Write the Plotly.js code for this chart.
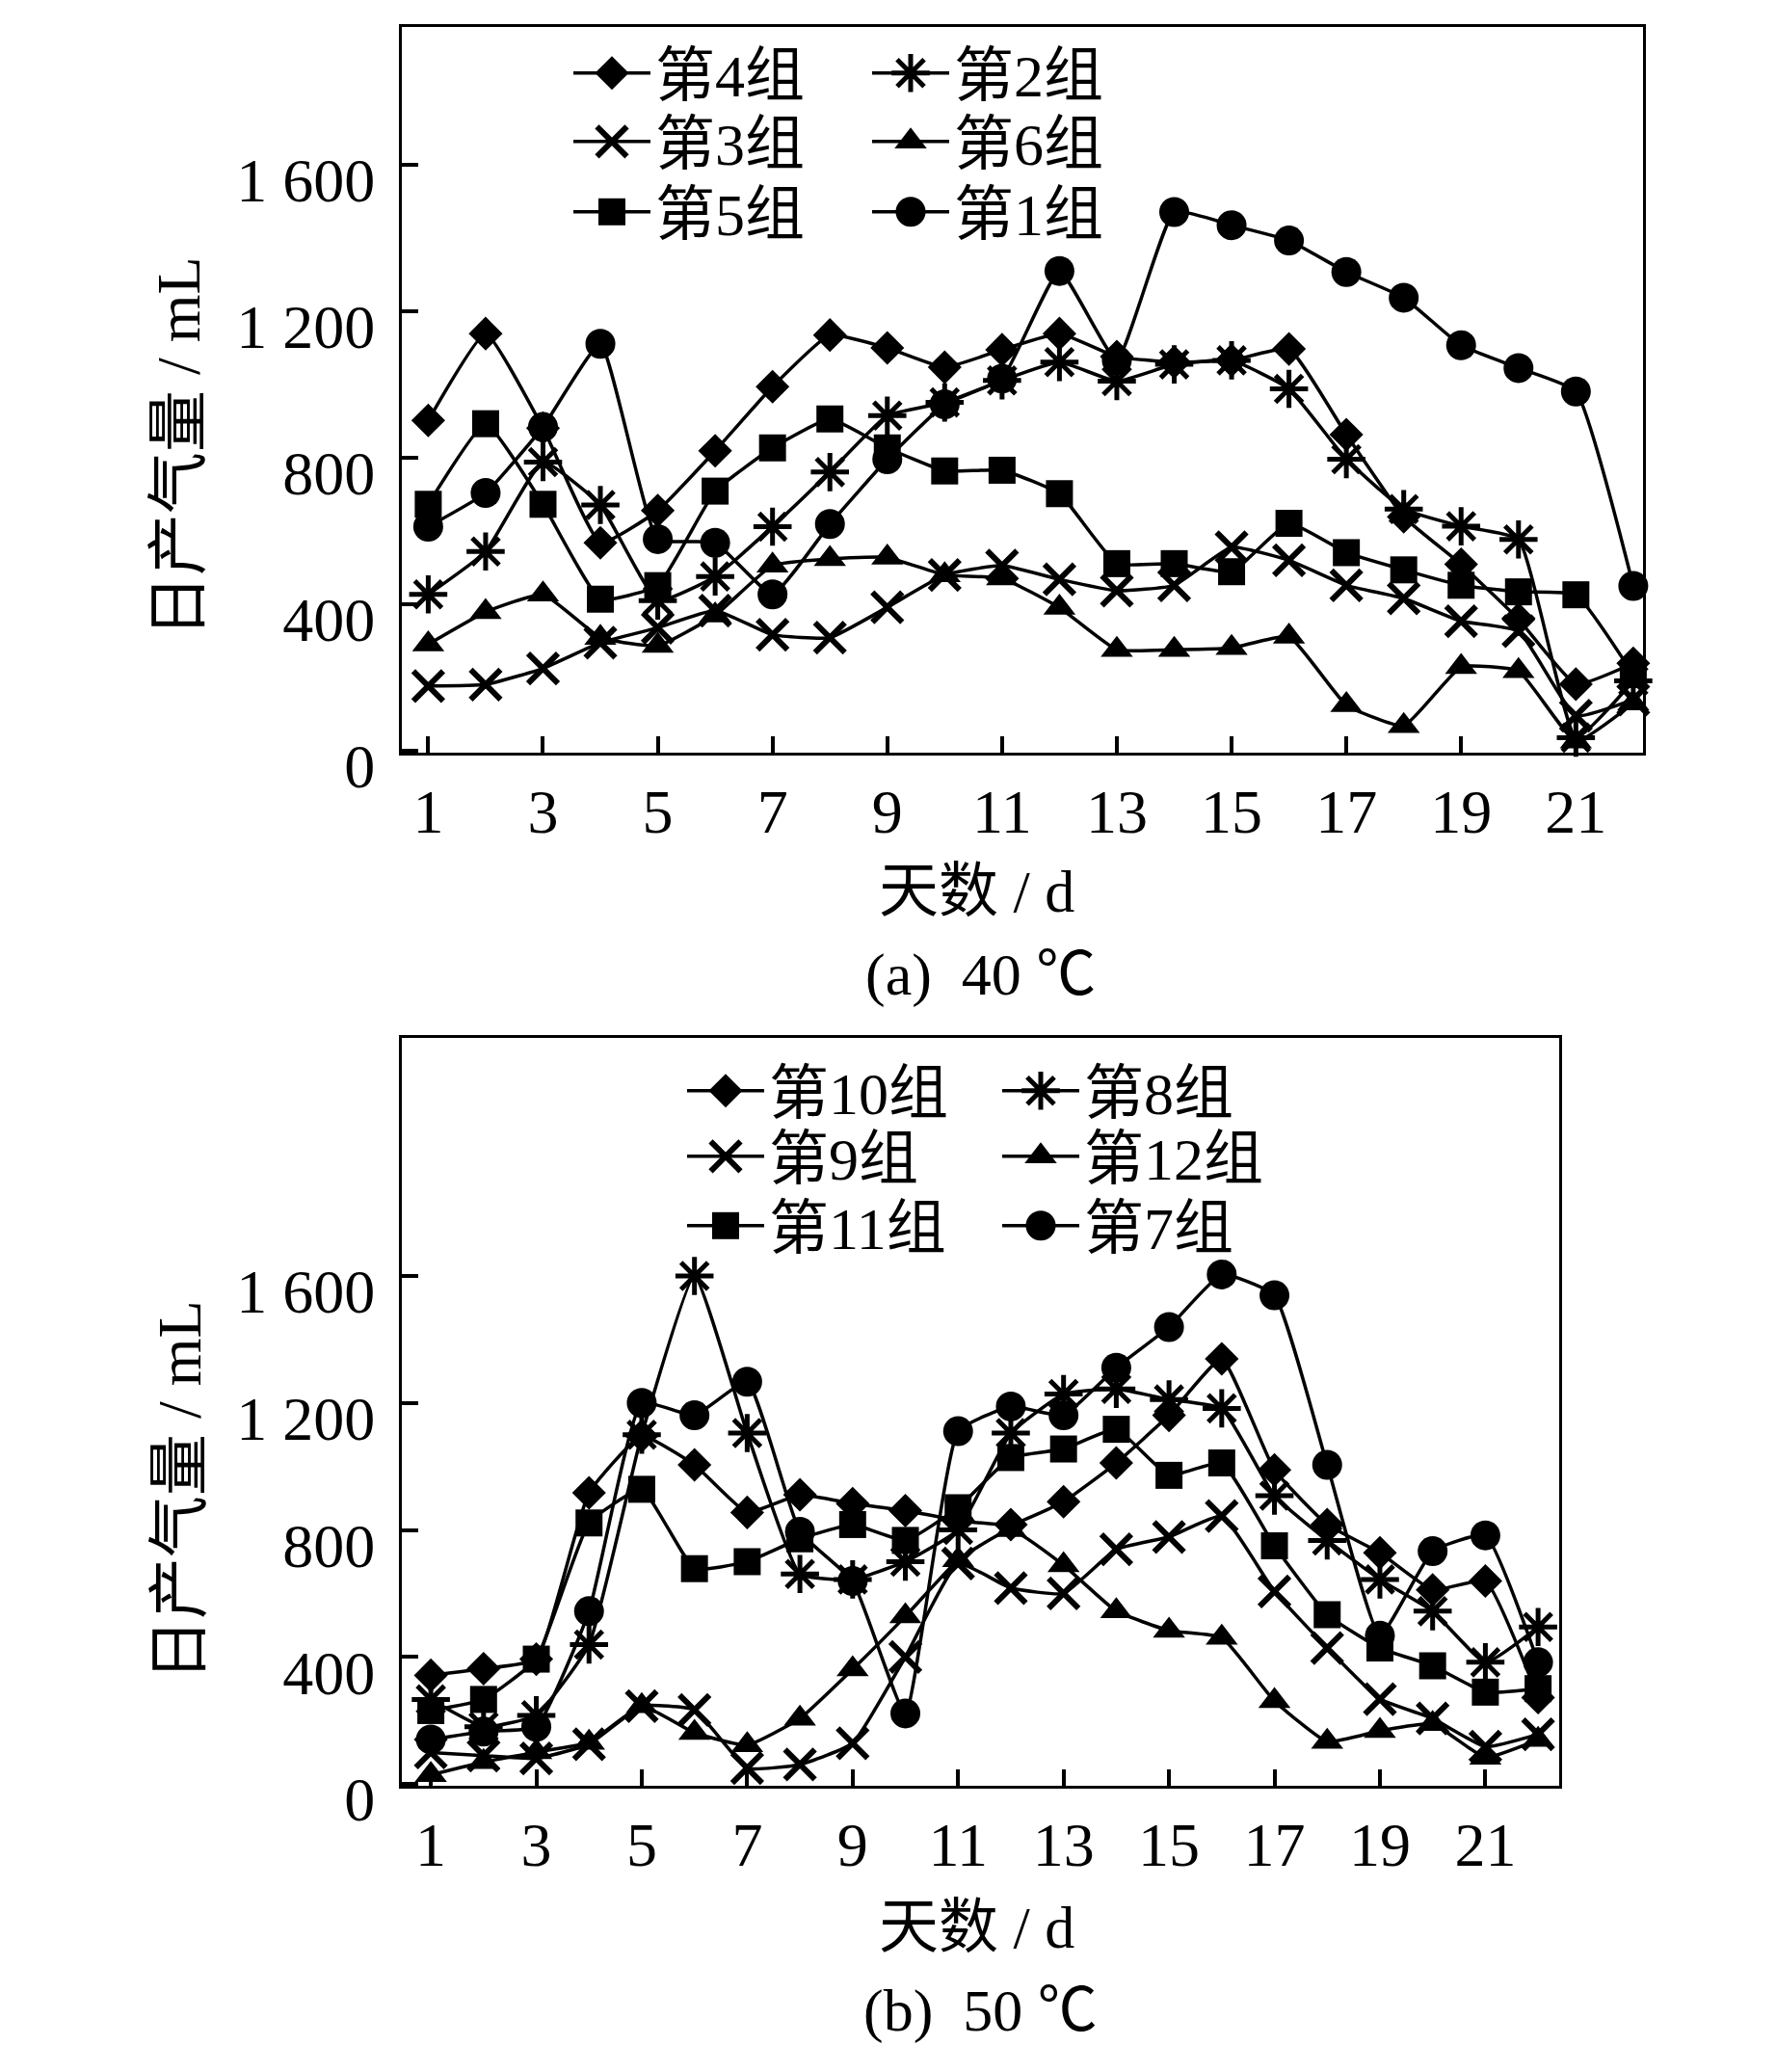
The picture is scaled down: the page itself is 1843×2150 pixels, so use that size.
<!DOCTYPE html>
<html>
<head>
<meta charset="utf-8">
<script src="https://cdn.plot.ly/plotly-3.0.1.min.js"></script>
<style>
  html, body { margin: 0; padding: 0; background: #fff; }
  #chart { width: 1843px; height: 2150px; }
</style>
</head>
<body>
<div id="chart"></div>
<script>
// days on the x axis
const days = [1, 2, 3, 4, 5, 6, 7, 8, 9, 10, 11, 12, 13, 14, 15, 16, 17, 18, 19, 20, 21, 22];

// (a) 40 C, daily gas volume in mL
const g4 = [901, 1138, 880, 567, 655, 818, 993, 1134, 1099, 1046, 1094, 1138, 1075, 1060, 1065, 1096, 862, 638, 508, 358, 181, 238];
const g2 = [426, 543, 787, 670, 409, 475, 611, 760, 914, 950, 1010, 1060, 1008, 1054, 1065, 987, 795, 659, 612, 576, 35, 190];
const g3 = [176, 180, 224, 294, 335, 382, 316, 308, 391, 479, 505, 467, 436, 451, 555, 519, 451, 415, 353, 326, 95, 139];
const g6 = [290, 378, 426, 308, 286, 369, 505, 523, 527, 479, 470, 390, 275, 275, 280, 311, 124, 67, 228, 217, 25, 129];
const g5 = [672, 892, 672, 413, 450, 708, 826, 905, 826, 763, 765, 701, 510, 510, 488, 620, 540, 493, 451, 433, 425, 207];
const g1 = [611, 703, 883, 1110, 577, 567, 426, 618, 795, 945, 1015, 1309, 1065, 1470, 1434, 1392, 1306, 1236, 1106, 1044, 980, 449];

// (b) 50 C
const g10 = [342, 363, 393, 917, 1096, 1005, 855, 911, 883, 861, 830, 817, 889, 1011, 1161, 1339, 989, 817, 728, 611, 639, 272];
const g8 = [266, 180, 216, 439, 1100, 1600, 1105, 661, 644, 700, 800, 1105, 1228, 1244, 1211, 1183, 908, 767, 644, 544, 383, 494];
const g9 = [99, 89, 80, 125, 245, 233, 50, 61, 128, 400, 694, 617, 600, 739, 778, 844, 606, 428, 267, 206, 117, 156];
const g12 = [28, 69, 100, 130, 245, 161, 122, 206, 361, 528, 705, 800, 689, 544, 483, 461, 261, 133, 167, 189, 83, 139];
const g11 = [231, 266, 393, 822, 928, 678, 700, 772, 817, 767, 870, 1028, 1055, 1117, 972, 1011, 750, 533, 428, 372, 289, 300];
const g7 = [140, 165, 180, 544, 1200, 1161, 1267, 794, 639, 222, 1111, 1189, 1161, 1311, 1439, 1605, 1539, 1005, 467, 733, 783, 383];

const xTicks = [1, 3, 5, 7, 9, 11, 13, 15, 17, 19, 21];
const yTicks = [0, 400, 800, 1200, 1600];
const yTickText = ['0', '400', '800', '1 200', '1 600'];

const FONT = '"Liberation Serif", "Times New Roman", "Noto Sans CJK SC", serif';
const W = 1843, H = 2150;
const LEGEND_CAP = 16; // plotly caps legend marker size at 16px

// marker look per symbol kind
const marks = {
    diamond:  { symbol: 'diamond', size: 27, color: '#000', line: { width: 0 } },
    star:     { symbol: 'asterisk-open', size: 33, color: '#000', line: { width: 5, color: '#000' } },
    cross:    { symbol: 'x-thin-open', size: 31, color: '#000', line: { width: 6, color: '#000' } },
    triangle: { symbol: 'triangle-up', size: 29, color: '#000', line: { width: 0 } },
    square:   { symbol: 'square', size: 28, color: '#000', line: { width: 0 } },
    circle:   { symbol: 'circle', size: 31, color: '#000', line: { width: 0 } },
};

function series(name, y, kind, axis, legend) {
    return {
        x: days, y: y, name: name,
        type: 'scatter', mode: 'lines+markers',
        xaxis: 'x' + axis, yaxis: 'y' + axis,
        line: { color: '#000', width: 3.5, shape: 'spline', smoothing: 0.4 },
        marker: marks[kind],
        legend: legend,
        cliponaxis: false,
        meta: kind,
    };
}

// one legend per entry so the rows sit where the original has them
const traces = [
    series('第4组', g4, 'diamond', '', 'legend'),
    series('第3组', g3, 'cross', '', 'legend2'),
    series('第5组', g5, 'square', '', 'legend3'),
    series('第2组', g2, 'star', '', 'legend4'),
    series('第6组', g6, 'triangle', '', 'legend5'),
    series('第1组', g1, 'circle', '', 'legend6'),
    series('第10组', g10, 'diamond', '2', 'legend7'),
    series('第9组', g9, 'cross', '2', 'legend8'),
    series('第11组', g11, 'square', '2', 'legend9'),
    series('第8组', g8, 'star', '2', 'legend10'),
    series('第12组', g12, 'triangle', '2', 'legend11'),
    series('第7组', g7, 'circle', '2', 'legend12'),
];

function xAxis(domain, range, anchor) {
    return {
        domain: domain, range: range, anchor: anchor,
        tickmode: 'array', tickvals: xTicks,
        ticks: 'inside', ticklen: 17, tickwidth: 4, tickcolor: '#000',
        showline: true, linewidth: 3, linecolor: '#000', mirror: true,
        showgrid: false, zeroline: false,
        tickfont: { family: FONT, size: 64, color: '#000' },
        ticklabelstandoff: 3,
    };
}

function yAxis(domain, range, anchor) {
    return {
        domain: domain, range: range, anchor: anchor,
        tickmode: 'array', tickvals: yTicks, ticktext: yTickText,
        ticks: 'inside', ticklen: 17, tickwidth: 4, tickcolor: '#000',
        showline: true, linewidth: 3, linecolor: '#000', mirror: true,
        showgrid: false, zeroline: false,
        tickfont: { family: FONT, size: 64, color: '#000' },
        ticklabelstandoff: 12,
        ticklabelshift: 16,
    };
}

function legendAt(x, yMid) {
    return {
        x: x / W, y: 1 - yMid / H, xanchor: 'left', yanchor: 'middle',
        bgcolor: 'rgba(0,0,0,0)', borderwidth: 0,
        font: { family: FONT, size: 62, color: '#000' },
        itemwidth: 80, tracegroupgap: 0,
    };
}

function note(text, x, y, angle, size) {
    return {
        text: text, x: x / W, y: 1 - y / H, xref: 'paper', yref: 'paper',
        showarrow: false, textangle: angle || 0,
        xanchor: 'center', yanchor: 'middle',
        font: { family: FONT, size: size || 62, color: '#000' },
    };
}

const layout = {
    width: W, height: H,
    margin: { t: 0, r: 0, b: 0, l: 0 },
    paper_bgcolor: '#fff', plot_bgcolor: '#fff',
    showlegend: true,
    xaxis: xAxis([417 / W, 1705 / W], [0.54, 22.17], 'y'),
    yaxis: yAxis([1 - 781 / H, 1 - 28 / H], [-6, 1975], 'x'),
    xaxis2: xAxis([417 / W, 1618 / W], [0.45, 22.4], 'y2'),
    yaxis2: yAxis([1 - 1853 / H, 1 - 1077 / H], [-6, 2350], 'x2'),
    legend: legendAt(590, 76),
    legend2: legendAt(590, 147),
    legend3: legendAt(590, 220),
    legend4: legendAt(900, 76),
    legend5: legendAt(900, 147),
    legend6: legendAt(900, 220),
    legend7: legendAt(708, 1132),
    legend8: legendAt(708, 1200),
    legend9: legendAt(708, 1272),
    legend10: legendAt(1035, 1132),
    legend11: legendAt(1035, 1200),
    legend12: legendAt(1035, 1272),
    annotations: [
        note('日产气量 / mL', 186, 464, -90, 64),
        note('天数 / d', 1013, 925),
        note('(a)  40 ℃', 1017, 1011),
        note('日产气量 / mL', 186, 1547, -90, 64),
        note('天数 / d', 1013, 2000),
        note('(b)  50 ℃', 1017, 2086),
    ],
};

Plotly.newPlot('chart', traces, layout, { displayModeBar: false, staticPlot: true }).then(gd => {
    // enlarge the legend symbols to the size used in the plot
    gd.querySelectorAll('.infolayer .traces').forEach(item => {
        const d = item.__data__;
        const tr = d && d[0] && d[0].trace;
        if (!tr || !marks[tr.meta]) return;
        const m = marks[tr.meta];
        const k = m.size / LEGEND_CAP;
        item.querySelectorAll('.legendpoints path.scatterpts').forEach(p => {
            const t = p.getAttribute('transform') || '';
            p.setAttribute('transform', t + ' scale(' + k + ')');
            if (m.line.width > 0) p.style.strokeWidth = (m.line.width / k) + 'px';
        });
    });
});
</script>
</body>
</html>
